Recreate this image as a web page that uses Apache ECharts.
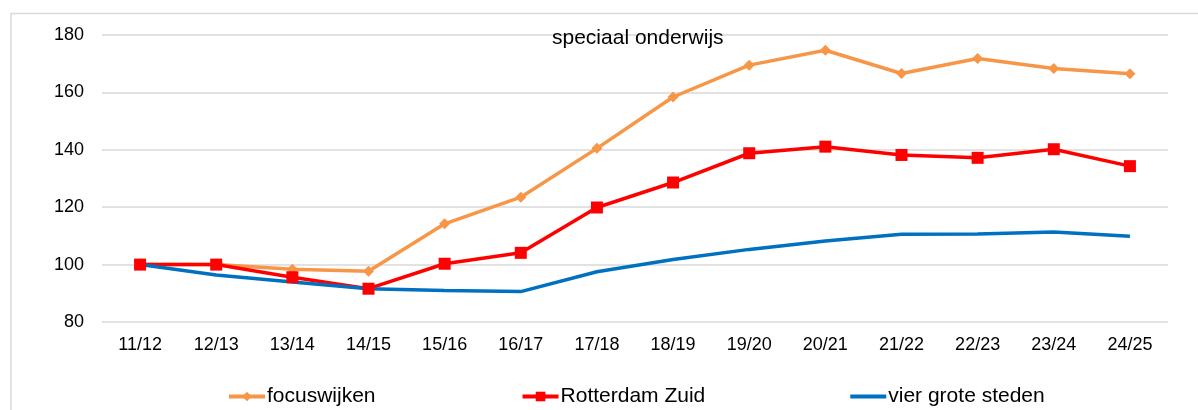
<!DOCTYPE html>
<html lang="nl">
<head>
    <meta charset="UTF-8">
    <title>speciaal onderwijs</title>
    <script src="https://cdn.jsdelivr.net/npm/echarts@6/dist/echarts.min.js"></script>
    <style>
        html, body { margin: 0; padding: 0; background: #fff; }
        #main { width: 1198px; height: 410px; }
    </style>
</head>
<body>
<div id="main"></div>
<script>
    // schooljaren
    var years = ['11/12', '12/13', '13/14', '14/15', '15/16', '16/17', '17/18',
        '18/19', '19/20', '20/21', '21/22', '22/23', '23/24', '24/25'];
    // index, 11/12 = 100
    var focuswijken = [100, 100, 98.4, 97.7, 114.2, 123.5, 140.5, 158.4, 169.5, 174.7, 166.6, 171.8, 168.3, 166.5];
    var rotterdamZuid = [100, 100, 95.6, 91.6, 100.3, 104.1, 119.9, 128.6, 138.8, 141.1, 138.2, 137.2, 140.2, 134.3];
    var vierGroteSteden = [100, 96.4, 93.9, 91.6, 91.0, 90.6, 97.5, 101.8, 105.3, 108.2, 110.6, 110.7, 111.4, 109.9];
    var yTicks = [80, 100, 120, 140, 160, 180];

    var font = "'Liberation Sans', Arial, sans-serif";
    var myChart = echarts.init(document.getElementById('main'));

    var option = {
        animation: false,
        backgroundColor: '#fff',
        title: {
            text: 'speciaal onderwijs',
            left: 547,
            top: 23,
            textStyle: { fontFamily: font, fontSize: 21, fontWeight: 'normal', color: '#000' }
        },
        graphic: [{
            type: 'rect',
            shape: { x: 11, y: 13.5, width: 1300, height: 500 },
            style: { fill: 'none', stroke: '#d9d9d9', lineWidth: 1.5 },
            silent: true
        }],
        legend: {
            left: 227,
            top: 386,
            padding: 0,
            itemWidth: 36,
            itemHeight: 12,
            itemGap: 145,
            lineStyle: { width: 4 },
            textStyle: { fontFamily: font, fontSize: 21, color: '#000', padding: [0, 0, 0, -3] },
            data: [
                'focuswijken',
                'Rotterdam Zuid',
                // plain line, no marker
                { name: 'vier grote steden', icon: 'path://M0 0 H36 V4 H0 Z' }
            ]
        },
        grid: { left: 102, right: 30, top: 35, bottom: 88 },
        xAxis: {
            type: 'category',
            data: years,
            boundaryGap: true,
            axisLine: { show: false },
            axisTick: { show: false },
            axisLabel: { fontFamily: font, fontSize: 18, color: '#000', margin: 14 }
        },
        yAxis: {
            type: 'value',
            min: yTicks[0],
            max: yTicks[yTicks.length - 1],
            interval: 20,
            axisLine: { show: false },
            axisTick: { show: false },
            axisLabel: { fontFamily: font, fontSize: 18, color: '#000', margin: 18 },
            splitLine: { lineStyle: { color: '#d9d9d9', width: 1.5 } }
        },
        series: [
            {
                name: 'focuswijken',
                type: 'line',
                data: focuswijken,
                symbol: 'diamond',
                symbolSize: 11,
                lineStyle: { color: '#f79646', width: 3.5 },
                itemStyle: { color: '#f79646' }
            },
            {
                name: 'Rotterdam Zuid',
                type: 'line',
                data: rotterdamZuid,
                symbol: 'rect',
                symbolSize: 12,
                lineStyle: { color: '#ff0000', width: 3.5 },
                itemStyle: { color: '#ff0000' }
            },
            {
                name: 'vier grote steden',
                type: 'line',
                data: vierGroteSteden,
                symbol: 'none',
                lineStyle: { color: '#0070c0', width: 3.5 },
                itemStyle: { color: '#0070c0' }
            }
        ]
    };

    myChart.setOption(option);
</script>
</body>
</html>
